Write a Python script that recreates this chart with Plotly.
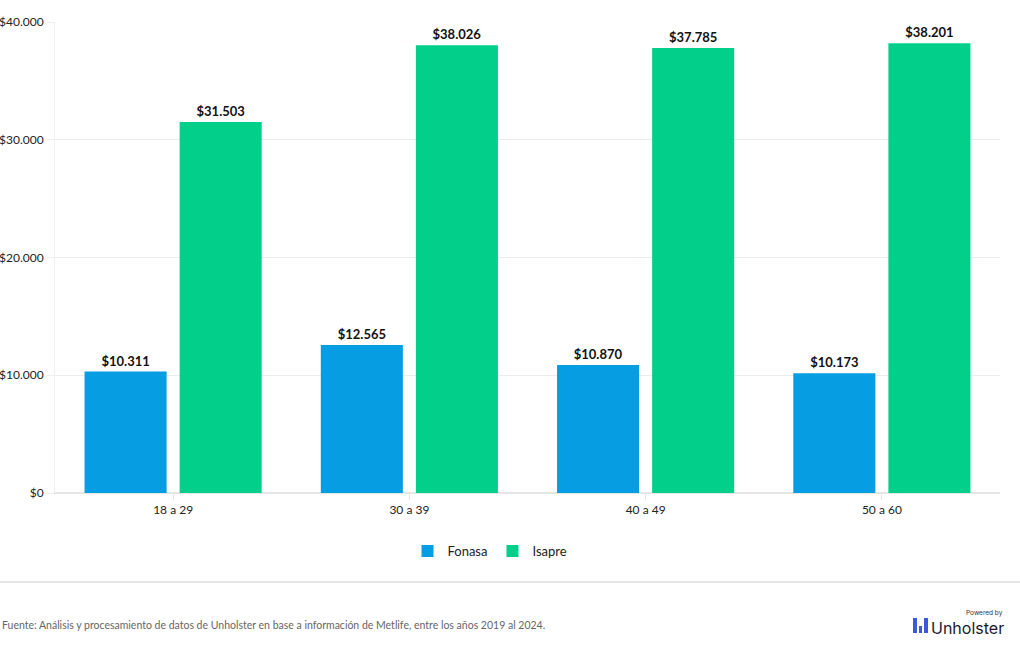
import plotly.graph_objects as go

categories = ["18 a 29", "30 a 39", "40 a 49", "50 a 60"]
fonasa = [10311, 12565, 10870, 10173]
isapre = [31503, 38026, 37785, 38201]
y_ticks = [0, 10000, 20000, 30000, 40000]
y_tick_labels = ["$0", "$10.000", "$20.000", "$30.000", "$40.000"]

FONT = "Lato, 'Noto Sans', sans-serif"
W, H = 1020, 650
ML, MR, MT, MB = 55, 20, 22, 157
PW, PH = W - ML - MR, H - MT - MB

def px(x):
    return (x - ML) / PW

def py(y):
    return (H - MB - y) / PH

fig = go.Figure()
for name, vals, color in [("Fonasa", fonasa, "#069de3"), ("Isapre", isapre, "#02cf8a")]:
    fig.add_trace(go.Bar(
        name=name, x=categories, y=vals, marker_color=color, marker_line_width=0,
        texttemplate="<b>$%{y:,}</b>", textposition="outside", cliponaxis=False,
        textfont=dict(color="#111111", size=13, family=FONT),
        hovertemplate="%{x}: $%{y:,}<extra>" + name + "</extra>",
    ))

shapes = [
    dict(type="line", xref="paper", yref="paper", x0=px(0), x1=px(W), y0=py(582), y1=py(582),
         line=dict(color="#cccccc", width=1)),
]
# logo icon bars
for (x0, x1, y0) in [(913, 917, 618), (919, 922, 626), (924, 928, 618)]:
    shapes.append(dict(type="rect", xref="paper", yref="paper", x0=px(x0), x1=px(x1),
                       y0=py(633), y1=py(y0), line_width=0, fillcolor="#3a5bd9"))

annotations = [
    dict(text="Fuente: Análisis y procesamiento de datos de Unholster en base a información de Metlife, entre los años 2019 al 2024.",
         xref="paper", yref="paper", x=px(0), y=py(625), xanchor="left", yanchor="middle",
         showarrow=False, font=dict(size=10.5, color="#666666", family=FONT)),
    dict(text="Unholster", xref="paper", yref="paper", x=px(1006), y=py(628), xanchor="right", yanchor="middle",
         showarrow=False, font=dict(size=16, color="#1a1a2e", family="Inter, sans-serif")),
    dict(text="Powered by", xref="paper", yref="paper", x=px(1005), y=py(613), xanchor="right", yanchor="middle",
         showarrow=False, font=dict(size=6.5, color="#333333", family="Inter, sans-serif")),
]

fig.update_layout(
    width=W, height=H, margin=dict(l=ML, r=MR, t=MT, b=MB, autoexpand=False),
    paper_bgcolor="white", plot_bgcolor="white",
    separators=",.",
    barmode="group", bargap=0.195, bargroupgap=0.137,
    font=dict(family=FONT, size=12, color="#333333"),
    showlegend=True,
    legend=dict(orientation="h", x=px(490), xanchor="center", y=py(551), yanchor="middle",
                font=dict(size=13, color="#222222", family=FONT), itemwidth=30, traceorder="normal"),
    shapes=shapes, annotations=annotations,
    xaxis=dict(showgrid=False, showline=True, linecolor="#e6e6e6", ticks="outside", ticklen=6,
               tickcolor="#e6e6e6", tickfont=dict(size=12, color="#222222"), automargin=False),
    yaxis=dict(range=[0, 40000], tickvals=y_ticks, ticktext=y_tick_labels,
               showgrid=True, gridcolor="#ececec", zeroline=True, zerolinecolor="#e6e6e6",
               showline=True, linecolor="#eeeeee", ticks="outside", ticklen=8, tickcolor="#eeeeee",
               tickfont=dict(size=12, color="#222222"), automargin=False),
)

fig.write_html("out.html", config={"displayModeBar": False},
               post_script="document.body.style.margin='0';document.body.style.padding='0';")
